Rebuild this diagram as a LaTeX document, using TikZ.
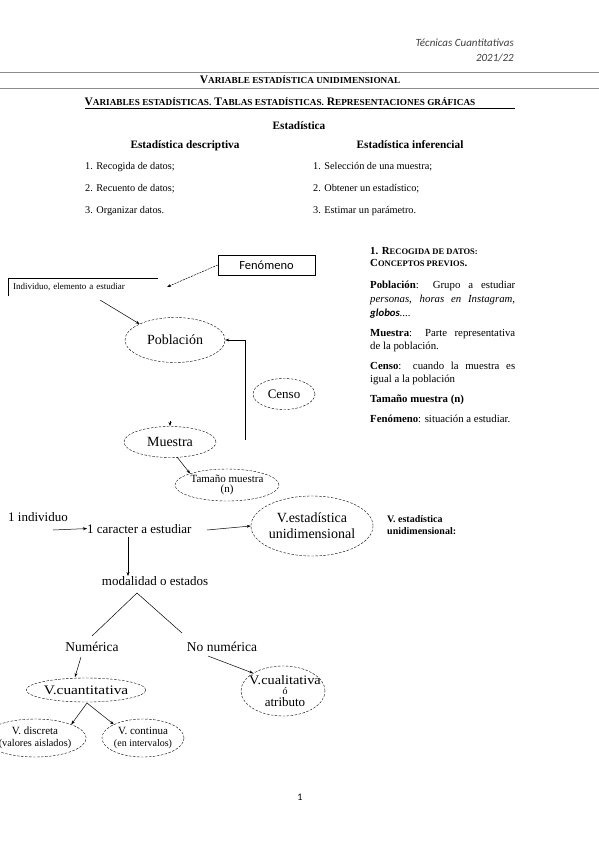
\documentclass[tikz,border=0pt]{standalone}
\usepackage{fontspec}
\usepackage{graphicx}
\setmainfont{Liberation Serif}
\newfontfamily\calib{Carlito}
\usetikzlibrary{shapes.geometric,arrows.meta}
\newcommand\fsc[3]{#1{\fontsize{#3}{10}\selectfont #2}}
\tikzset{
  body/.style={font=\fontsize{10.3}{12}\selectfont, inner sep=0pt},
  rbody/.style={font=\fontsize{10.8}{12}\selectfont, inner sep=0pt, anchor=base west},
  dia/.style={font=\fontsize{13}{14}\selectfont, inner sep=0pt},
  oval/.style={ellipse, draw, dashed, dash pattern=on 2.5pt off 1.5pt, inner sep=0pt, font=\fontsize{13}{14}\selectfont, align=center},
  arr/.style={-{Stealth[length=4pt,width=3pt]}, line width=0.5pt},
  ln/.style={line width=0.5pt}
}
\begin{document}
\begin{tikzpicture}[x=1pt,y=-1pt]
\useasboundingbox[fill=white] (0,0) rectangle (599,848);
% header
\node[anchor=base east, inner sep=0pt, font=\calib\itshape\fontsize{11}{12}\selectfont, text=black!75] (h1) at (514,47) {Técnicas Cuantitativas};
\node[anchor=base east, inner sep=0pt, font=\calib\itshape\fontsize{11}{12}\selectfont, text=black!75] (h2) at (514,62) {2021/22};
\draw[line width=1.6pt, black!45] (0,72.5) -- (599,72.5);
\node[anchor=base, inner sep=0pt, font=\bfseries\fontsize{11.5}{12}\selectfont] (t1) at (300,83.5) {\fsc{V}{ARIABLE ESTADÍSTICA UNIDIMENSIONAL}{9.2}};
\draw[line width=1.6pt, black!45] (0,88.5) -- (599,88.5);
\node[anchor=base, inner sep=0pt, font=\bfseries\fontsize{11.5}{12}\selectfont] (t2) at (280,105.5) {\fsc{V}{ARIABLES ESTADÍSTICAS.}{9.2} \fsc{T}{ABLAS ESTADÍSTICAS.}{9.2} \fsc{R}{EPRESENTACIONES GRÁFICAS}{9.2}};
\draw[line width=0.6pt] (85,108.5) -- (515,108.5);
% Estadistica
\node[body, anchor=base, font=\bfseries\fontsize{11.3}{12}\selectfont] (est) at (299,129) {Estadística};
\node[body, anchor=base, font=\bfseries\fontsize{11.3}{12}\selectfont] (desc) at (185,149) {Estadística descriptiva};
\node[body, anchor=base, font=\bfseries\fontsize{11.3}{12}\selectfont] (inf) at (410,149) {Estadística inferencial};
\node[body, anchor=base west] (d1) at (85,169) {1. Recogida de datos;};
\node[body, anchor=base west] (d2) at (85,191) {2. Recuento de datos;};
\node[body, anchor=base west] (d3) at (85,213) {3. Organizar datos.};
\node[body, anchor=base west] (i1) at (313,169) {1. Selección de una muestra;};
\node[body, anchor=base west] (i2) at (313,191) {2. Obtener un estadístico;};
\node[body, anchor=base west] (i3) at (313,213) {3. Estimar un parámetro.};
% right text block
\node[rbody] (r1) at (370,254) {\bfseries\fsc{1. R}{ECOGIDA DE DATOS:}{8.5}};
\node[rbody] (r2) at (370,266.5) {\bfseries\fsc{C}{ONCEPTOS PREVIOS}{8.5}.};
\node[rbody] (r3) at (370,288) {\makebox[145pt][s]{\textbf{Población}: Grupo a estudiar}};
\node[rbody] (r4) at (370,302) {\makebox[145pt][s]{\itshape personas, horas en Instagram,}};
\node[rbody] (r5) at (370,316) {{\calib\bfseries\itshape globos}\textit{....}};
\node[rbody] (r6) at (370,336) {\makebox[145pt][s]{\textbf{Muestra}: Parte representativa}};
\node[rbody] (r7) at (370,349.5) {de la población.};
\node[rbody] (r8) at (370,369) {\makebox[145pt][s]{\textbf{Censo}: cuando la muestra es}};
\node[rbody] (r9) at (370,382.5) {igual a la población};
\node[rbody] (r10) at (370,402) {\textbf{Tamaño muestra (n)}};
\node[rbody] (r11) at (370,422) {\textbf{Fenómeno}: situación a estudiar.};
\node[rbody, font=\bfseries\fontsize{10}{10}\selectfont] (r12) at (387,522) {V. estadística};
\node[rbody, font=\bfseries\fontsize{10}{10}\selectfont] (r13) at (387,534) {unidimensional:};
% upper diagram
\node[draw, line width=0.6pt, minimum width=97pt, minimum height=20pt, inner sep=0pt, font=\calib\fontsize{12.5}{13}\selectfont] (fen) at (266.5,265) {Fenómeno};
\node[anchor=north west, minimum width=150pt, minimum height=18pt, inner sep=0pt, align=left, text width=146pt, font=\fontsize{9}{10}\selectfont] (indiv) at (8,278) {\hspace*{3pt}Individuo, elemento a estudiar};
\draw[ln] (indiv.south west) -- (indiv.north west) -- (indiv.north east);
\coordinate (fenend) at (167,287);
\draw[arr, dashed, dash pattern=on 2pt off 1pt] (fen.west) -- (fenend);
\node[oval, minimum width=100pt, minimum height=45pt, font=\fontsize{14}{15}\selectfont] (pob) at (175,340) {Población};
\coordinate (indo) at (100,300);
\draw[arr] (indo) -- (pob.north west);
\node[oval, minimum width=62pt, minimum height=31pt] (censo) at (284,394) {Censo};
\coordinate (cl) at (245,440);
\draw[arr] (cl) |- (pob.east);
\node[oval, minimum width=92pt, minimum height=31pt, font=\fontsize{14}{15}\selectfont] (mue) at (170,442) {Muestra};
\coordinate (mt1) at (170,421);
\coordinate (mt2) at (170,426);
\draw[arr] (mt1) -- (mt2);
\node[oval, minimum width=104pt, minimum height=32pt, font=\fontsize{11}{10.5}\selectfont] (tam) at (227,485) {Tamaño muestra\\(n)};
\coordinate (ms) at (177,457);
\draw[arr] (ms) -- (tam.north west);
% lower diagram
\node[dia, anchor=base west] (ind) at (8,521) {1 individuo};
\node[dia, anchor=base west] (car) at (87,533) {1 caracter a estudiar};
\coordinate (ia) at (53,530);
\draw[arr] (ia) -- (car.west);
\node[oval, minimum width=106pt, minimum height=60pt, font=\fontsize{14}{16}\selectfont] (vest) at (312,526) {V.estadística\\unidimensional};
\coordinate (ca) at (207,530);
\draw[arr] (ca) -- (vest.west);
\node[dia, anchor=base] (mod) at (155,585) {modalidad o estados};
\coordinate (cd) at (128,537);
\coordinate (cde) at (128,576);
\draw[arr] (cd) -- (cde);
\node[dia, anchor=base, font=\fontsize{13.5}{14}\selectfont] (num) at (92,651) {Numérica};
\node[dia, anchor=base, font=\fontsize{13.5}{14}\selectfont] (nnum) at (222,651) {No numérica};
\coordinate (apex) at (137,593);
\coordinate (lf) at (92,636);
\coordinate (rt) at (182,633);
\draw[ln] (lf) -- (apex) -- (rt);
\node[oval, minimum width=102pt, minimum height=24pt] (cuant) at (86,690) {\scalebox{1.18}[1]{V.cuantitativa}};
\node[oval, minimum width=84pt, minimum height=50pt] (cual) at (283,691) {};
\node[inner sep=0pt, font=\fontsize{13}{14}\selectfont, anchor=base] (cual1) at (285,684) {\scalebox{1.1}[1]{V.cualitativa}};
\node[inner sep=0pt, font=\fontsize{10}{10}\selectfont, anchor=base] (cual2) at (285,694) {ó};
\node[inner sep=0pt, font=\fontsize{13}{14}\selectfont, anchor=base] (cual3) at (285,706) {atributo};
\coordinate (ns) at (81,657);
\coordinate (ne) at (75,677);
\draw[arr] (ns) -- (ne);
\coordinate (nns) at (208,656);
\draw[arr] (nns) -- (cual.north west);
\node[oval, minimum width=68pt, minimum height=38pt, font=\fontsize{11}{11.5}\selectfont] (disc) at (35,738) {V. discreta\\{\fontsize{10.3}{11}\selectfont(valores aislados)}};
\node[oval, minimum width=62pt, minimum height=38pt, font=\fontsize{11}{11.5}\selectfont] (cont) at (143,738) {V. continua\\{\fontsize{10}{11}\selectfont(en intervalos)}};
\coordinate (cb) at (87,703);
\draw[arr] (cb) -- (disc.north east);
\draw[arr] (cb) -- (cont.north west);
% page number
\node[inner sep=0pt, font=\calib\fontsize{10}{11}\selectfont] (pg) at (300,797) {1};
\end{tikzpicture}
\end{document}
